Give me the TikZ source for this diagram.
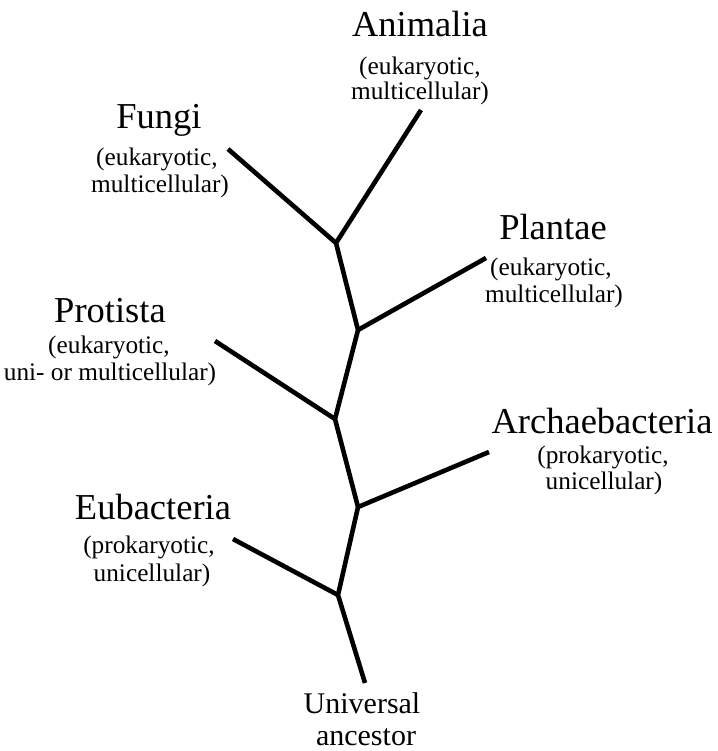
\documentclass[tikz,border=0pt]{standalone}
\usepackage{fontspec}
\setmainfont{Liberation Serif}
\begin{document}
\begin{tikzpicture}[x=1pt,y=-1pt,
  branch/.style={line width=4.6pt, line join=miter, line cap=butt},
  ttl/.style={anchor=base, inner sep=0pt, font=\fontsize{36.5}{36}\selectfont},
  dsc/.style={anchor=base, inner sep=0pt, font=\fontsize{25.3}{26}\selectfont},
  anc/.style={anchor=base, inner sep=0pt, font=\fontsize{30}{30}\selectfont}]
\useasboundingbox (0,0) rectangle (717,751);
% junctions and ends
\coordinate (root) at (365,683);
\coordinate (jA) at (338,595);
\coordinate (jB) at (358,507);
\coordinate (jC) at (335,419);
\coordinate (jD) at (358,330);
\coordinate (jE) at (336,243);
\coordinate (eAnim) at (421,110);
\coordinate (eFung) at (228,149);
\coordinate (ePlan) at (486,258);
\coordinate (eProt) at (215,341);
\coordinate (eArch) at (489,452);
\coordinate (eEub) at (233,539);
% tree
\draw[branch] (root) -- (jA) -- (jB) -- (jC) -- (jD) -- (jE) -- (eAnim);
\draw[branch] (jA) -- (eEub);
\draw[branch] (jB) -- (eArch);
\draw[branch] (jC) -- (eProt);
\draw[branch] (jD) -- (ePlan);
\draw[branch] (jE) -- (eFung);
% labels
\node[ttl] (tAnim) at (420,37) {Animalia};
\node[dsc] (dAnim1) at (420,75) {(eukaryotic,};
\node[dsc] (dAnim2) at (420,100) {multicellular)};
\node[ttl] (tFung) at (159,129) {Fungi};
\node[dsc] (dFung1) at (157,166) {(eukaryotic,};
\node[dsc] (dFung2) at (160,193) {multicellular)};
\node[ttl] (tPlan) at (553,239) {Plantae};
\node[dsc] (dPlan1) at (551,275) {(eukaryotic,};
\node[dsc] (dPlan2) at (554,302) {multicellular)};
\node[ttl] (tProt) at (110,322) {Protista};
\node[dsc] (dProt1) at (109,353) {(eukaryotic,};
\node[dsc] (dProt2) at (110,380) {uni- or multicellular)};
\node[ttl] (tArch) at (602,433) {Archaebacteria};
\node[dsc] (dArch1) at (603,463) {(prokaryotic,};
\node[dsc] (dArch2) at (604,489) {unicellular)};
\node[ttl] (tEub) at (153,519) {Eubacteria};
\node[dsc] (dEub1) at (149,553) {(prokaryotic,};
\node[dsc] (dEub2) at (152,581) {unicellular)};
\node[anc] (tUni) at (362,713) {Universal};
\node[anc] (tAnc) at (366,745) {ancestor};
\end{tikzpicture}
\end{document}
